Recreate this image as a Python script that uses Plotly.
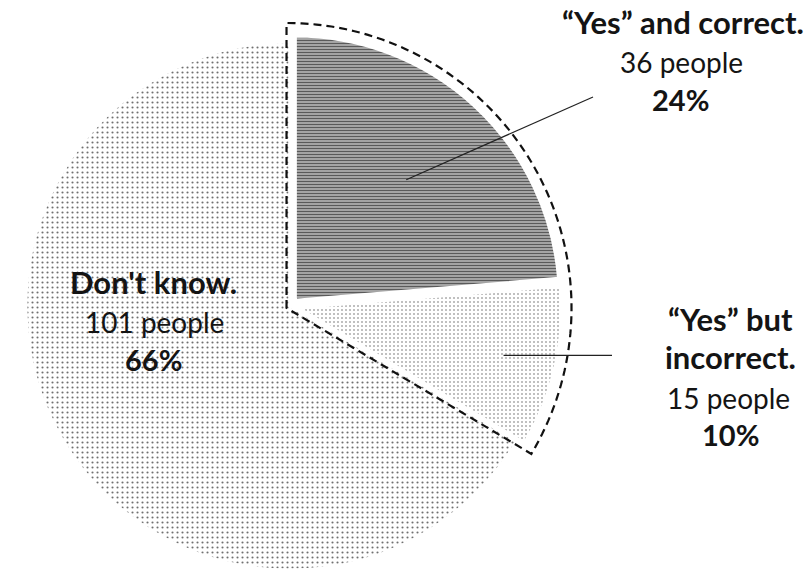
import math
import plotly.graph_objects as go

# Survey answers, in clockwise order from 12 o'clock
categories = ["\u201cYes\u201d and correct.", "\u201cYes\u201d but incorrect.", "Don't know."]
people = [36, 15, 101]
slice_pull = [0.03, 0.03, 0.0]

total = sum(people)
shares = [v / total for v in people]
pct_text = [f"{round(100 * s)}%" for s in shares]
count_text = [f"{v} people" for v in people]

W, H = 809, 578
FONT = "Lato"
INK = "#141414"

# Pie box: square, sitting on the bottom edge of the page
CX, CY = 290.0, 306.0
BOX = 2 * (H - CY)
R = BOX / (2 + 2 * max(slice_pull))
dom_x = [(CX - BOX / 2) / W, (CX + BOX / 2) / W]
dom_y = [0.0, BOX / H]


def px_to_paper(x, y):
    return x / W, 1 - y / H


# slice angles (radians, clockwise from 12 o'clock)
starts, ends = [], []
acc = 0.0
for s in shares:
    starts.append(acc * 2 * math.pi)
    acc += s
    ends.append(acc * 2 * math.pi)
mids = [(a + b) / 2 for a, b in zip(starts, ends)]


def slice_apex(i):
    return (CX + slice_pull[i] * R * math.sin(mids[i]),
            CY - slice_pull[i] * R * math.cos(mids[i]))


def along(i, frac):
    ax, ay = slice_apex(i)
    return (ax + frac * R * math.sin(mids[i]), ay - frac * R * math.cos(mids[i]))


patterns = [
    dict(shape="-", fgcolor="#5a5a5a", bgcolor="#b4b4b4", size=3, solidity=0.45),
    dict(shape=".", fgcolor="#707070", bgcolor="#ffffff", size=4, solidity=0.13),
    dict(shape=".", fgcolor="#707070", bgcolor="#ffffff", size=5, solidity=0.14),
]

fig = go.Figure(go.Pie(
    labels=categories,
    values=people,
    sort=False,
    direction="clockwise",
    rotation=0,
    pull=slice_pull,
    textinfo="none",
    hoverinfo="label+value+percent",
    showlegend=False,
    domain=dict(x=dom_x, y=dom_y),
    marker=dict(
        colors=["#8f8f8f", "#eeeeee", "#ececec"],
        line=dict(color="#ffffff", width=3),
        pattern=dict(
            shape=[p["shape"] for p in patterns],
            fgcolor=[p["fgcolor"] for p in patterns],
            bgcolor=[p["bgcolor"] for p in patterns],
            size=[p["size"] for p in patterns],
            solidity=[p["solidity"] for p in patterns],
        ),
    ),
))

# Dashed outline around both "Yes" slices
yes_end = ends[1]
yes_mid = yes_end / 2
pad = 4.0
ox = CX - pad * math.sin(yes_mid)
oy = CY + pad * math.cos(yes_mid)
outer = R * (1 + max(slice_pull)) + 13
pts = [(ox, oy)]
n = 80
for k in range(n + 1):
    a = yes_end * k / n
    pts.append((ox + outer * math.sin(a), oy - outer * math.cos(a)))
path = ""
for k, (x, y) in enumerate(pts):
    px, py = px_to_paper(x, y)
    path += ("M" if k == 0 else "L") + f"{px:.5f},{py:.5f} "
path += "Z"

shapes = [dict(type="path", path=path, xref="paper", yref="paper",
               line=dict(color="#111111", width=2.2, dash="8px,5px"),
               fillcolor="rgba(0,0,0,0)", layer="above")]

# Leader lines from labels into the slices
x0, y0 = along(0, 0.62)
lx0, ly0 = px_to_paper(x0, y0)
lx1, ly1 = px_to_paper(593, 97)
shapes.append(dict(type="line", xref="paper", yref="paper", x0=lx0, y0=ly0,
                   x1=lx1, y1=ly1, line=dict(color="#222222", width=1.2)))
x0, y0 = along(1, 0.8)
lx0, ly0 = px_to_paper(x0, y0)
lx1, _ = px_to_paper(612, y0)
shapes.append(dict(type="line", xref="paper", yref="paper", x0=lx0, y0=ly0,
                   x1=lx1, y1=ly0, line=dict(color="#222222", width=1.2)))

annotations = []

BOLD, REG, PCT = 31, 28, 29


def label(text, x, baseline, size, bold):
    px, py = px_to_paper(x, baseline - 0.36 * size)
    annotations.append(dict(
        text=f"<b>{text}</b>" if bold else text,
        x=px, y=py, xref="paper", yref="paper",
        xanchor="center", yanchor="middle", showarrow=False,
        font=dict(family=FONT, size=size, color=INK),
    ))


# "Yes" and correct
label(categories[0], 683, 33, BOLD, True)
label(count_text[0], 681, 72, REG, False)
label(pct_text[0], 680, 110, PCT, True)
# "Yes" but incorrect (label split over two lines)
label("\u201cYes\u201d but", 730, 330, BOLD, True)
label("incorrect.", 730, 368, BOLD, True)
label(count_text[1], 728, 408, REG, False)
label(pct_text[1], 730, 445, PCT, True)
# Don't know
label(categories[2], 153, 293, BOLD, True)
label(count_text[2], 154, 332, REG, False)
label(pct_text[2], 153, 370, PCT, True)

fig.update_layout(
    width=W, height=H, autosize=False,
    margin=dict(l=0, r=0, t=0, b=0),
    paper_bgcolor="#ffffff", plot_bgcolor="#ffffff",
    shapes=shapes, annotations=annotations,
)

fig.write_html("out.html")
